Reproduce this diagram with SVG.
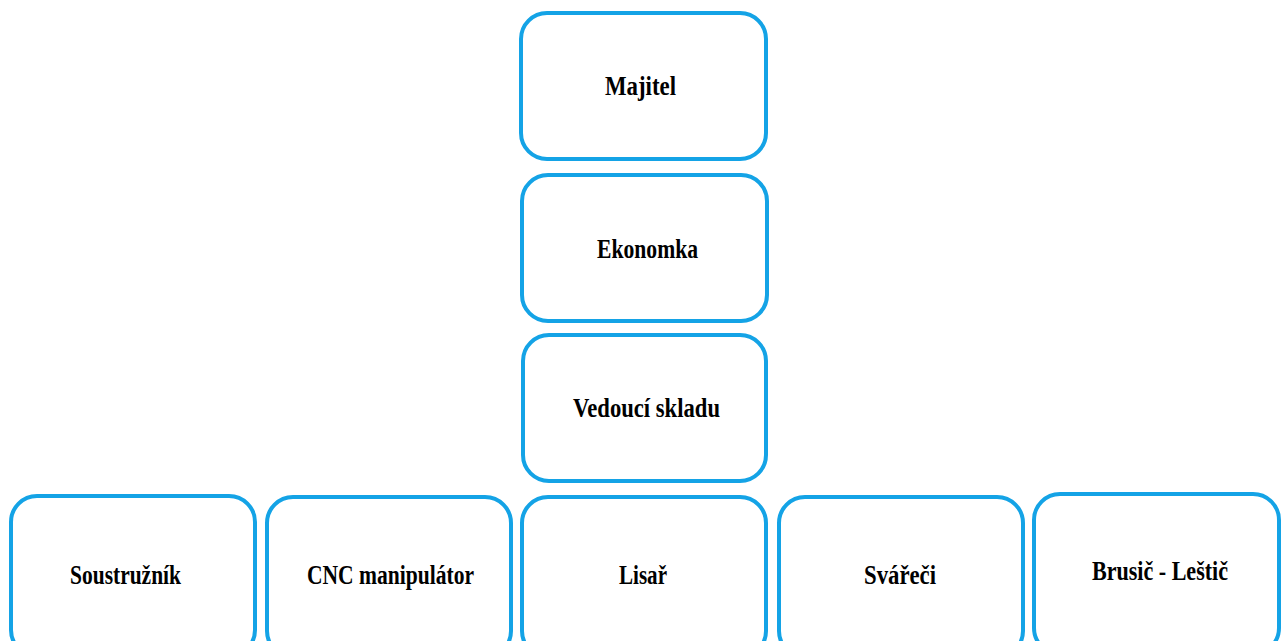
<svg xmlns="http://www.w3.org/2000/svg" width="1284" height="641" viewBox="0 0 1284 641">
<style>
.box{fill:#fff;stroke:#14A3E6;stroke-width:4}
.lbl{font-family:"Liberation Serif","Times New Roman",serif;font-weight:bold;font-size:28px;fill:#000}
</style>
<rect width="1284" height="641" fill="#fff"/>
<g id="majitel"><rect class="box" x="521" y="13" width="245" height="146" rx="26"/><text class="lbl" x="605" y="95" textLength="71" lengthAdjust="spacingAndGlyphs">Majitel</text></g>
<g id="ekonomka"><rect class="box" x="522" y="175" width="245" height="146" rx="26"/><text class="lbl" x="597" y="258" textLength="101" lengthAdjust="spacingAndGlyphs">Ekonomka</text></g>
<g id="vedouci"><rect class="box" x="523" y="335" width="243" height="146" rx="26"/><text class="lbl" x="573" y="417" textLength="147" lengthAdjust="spacingAndGlyphs">Vedoucí skladu</text></g>
<g id="soustruznik"><rect class="box" x="11" y="496" width="244" height="160" rx="26"/><text class="lbl" x="70" y="584" textLength="111" lengthAdjust="spacingAndGlyphs">Soustružník</text></g>
<g id="cnc"><rect class="box" x="267" y="497" width="244" height="160" rx="26"/><text class="lbl" x="307" y="584" textLength="167" lengthAdjust="spacingAndGlyphs">CNC manipulátor</text></g>
<g id="lisar"><rect class="box" x="522" y="497" width="244" height="160" rx="26"/><text class="lbl" x="619" y="584" textLength="48" lengthAdjust="spacingAndGlyphs">Lisař</text></g>
<g id="svareci"><rect class="box" x="779" y="497" width="244" height="160" rx="26"/><text class="lbl" x="864" y="584" textLength="72" lengthAdjust="spacingAndGlyphs">Svářeči</text></g>
<g id="brusic"><rect class="box" x="1034" y="494" width="245" height="160" rx="26"/><text class="lbl" x="1092" y="580" textLength="136" lengthAdjust="spacingAndGlyphs">Brusič - Leštič</text></g>
<g id="connectors"/>
</svg>
